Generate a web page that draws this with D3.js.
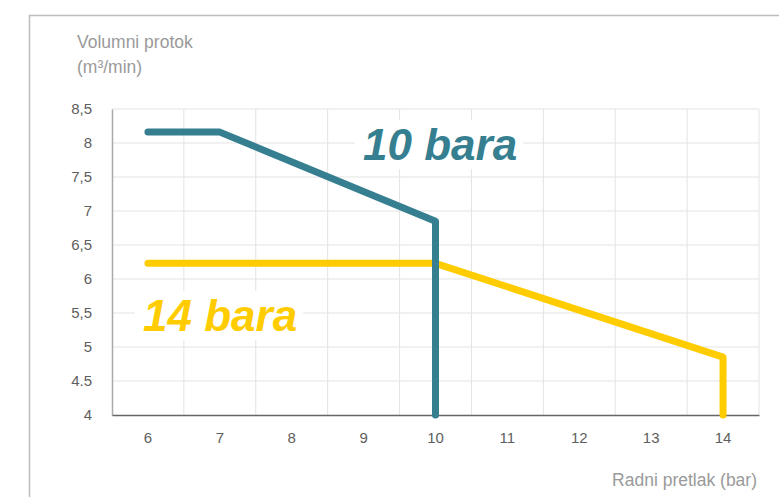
<!DOCTYPE html>
<html>
<head>
<meta charset="utf-8">
<script src="https://cdn.jsdelivr.net/npm/d3@7"></script>
<style>
  html, body { margin: 0; padding: 0; background: #fff; }
  svg { display: block; font-family: "Liberation Sans", Arial, sans-serif; }
  .tick text { font-size: 15px; fill: #5e5e5e; font-family: "Liberation Sans", Arial, sans-serif; }
</style>
</head>
<body>
<svg id="chart" width="779" height="497"></svg>
<script>
// categories on the x axis (working pressure, bar)
const pressures = [6, 7, 8, 9, 10, 11, 12, 13, 14];
const yTicks = [4, 4.5, 5, 5.5, 6, 6.5, 7, 7.5, 8, 8.5];
const yTickLabels = ['4', '4.5', '5', '5,5', '6', '6,5', '7', '7,5', '8', '8,5'];

// series: compressor 10 bar
const series10x = [6, 7, 10, 10];
const series10y = [8.16, 8.16, 6.85, 4];
// series: compressor 14 bar
const series14x = [6, 10, 14, 14];
const series14y = [6.23, 6.23, 4.85, 4];

const seriesNames = ['10 bara', '14 bara'];
const colors = ['#367f90', '#ffcc00'];

const svg = d3.select('#chart');

// outer frame, only top and left edges are visible
svg.append('rect')
  .attr('x', 29.5)
  .attr('y', 15.5)
  .attr('width', 900)
  .attr('height', 600)
  .attr('fill', 'none')
  .attr('stroke', '#bdbdbd')
  .attr('stroke-width', 1.5);

const plot = { left: 112, right: 759, top: 109, bottom: 415 };

const x = d3.scaleBand().domain(pressures).range([plot.left, plot.right]);
const xc = (v) => x(v) + x.bandwidth() / 2;
const y = d3.scaleLinear().domain([4, 8.5]).range([plot.bottom, plot.top]);

// horizontal grid
svg.append('g')
  .selectAll('line')
  .data(yTicks.slice(1))
  .enter()
  .append('line')
  .attr('x1', plot.left)
  .attr('x2', plot.right)
  .attr('y1', (d) => y(d))
  .attr('y2', (d) => y(d))
  .attr('stroke', '#e3e3e3')
  .attr('stroke-width', 1);

// vertical grid at band edges
svg.append('g')
  .selectAll('line')
  .data(pressures.slice(1).concat(['end']))
  .enter()
  .append('line')
  .attr('x1', (d) => d === 'end' ? plot.right : x(d))
  .attr('x2', (d) => d === 'end' ? plot.right : x(d))
  .attr('y1', plot.top)
  .attr('y2', plot.bottom)
  .attr('stroke', '#e3e3e3')
  .attr('stroke-width', 1);

// y axis
const yAxis = svg.append('g')
  .attr('transform', `translate(${plot.left},0)`)
  .call(d3.axisLeft(y).tickValues(yTicks).tickSize(0).tickPadding(20)
    .tickFormat((d, i) => yTickLabels[i]));
yAxis.select('.domain').attr('stroke', '#aaa').attr('stroke-width', 1.5);

// x axis
const xAxis = svg.append('g')
  .attr('transform', `translate(0,${plot.bottom})`)
  .call(d3.axisBottom(x).tickSize(0).tickPadding(17));
xAxis.select('.domain').attr('stroke', '#666').attr('stroke-width', 1.5);

// axis titles
svg.append('text')
  .attr('x', 77)
  .attr('y', 48)
  .attr('font-size', 17.5)
  .attr('fill', '#9a9a9a')
  .text('Volumni protok');
svg.append('text')
  .attr('x', 77)
  .attr('y', 73)
  .attr('font-size', 17.5)
  .attr('fill', '#9a9a9a')
  .text('(m³/min)');
svg.append('text')
  .attr('x', 757)
  .attr('y', 486)
  .attr('text-anchor', 'end')
  .attr('font-size', 17.5)
  .attr('fill', '#9a9a9a')
  .text('Radni pretlak (bar)');

// lines
const line = d3.line()
  .x((d) => xc(d[0]))
  .y((d) => y(d[1]));

const seriesData = [
  d3.zip(series10x, series10y),
  d3.zip(series14x, series14y),
];

// draw 14 first so 10 sits on top where they cross
[1, 0].forEach((i) => {
  svg.append('path')
    .datum(seriesData[i])
    .attr('d', line)
    .attr('fill', 'none')
    .attr('stroke', colors[i])
    .attr('stroke-width', 7)
    .attr('stroke-linecap', 'round')
    .attr('stroke-linejoin', 'round');
});

// series labels, white box hides the grid behind them
const labelPos = [
  { x: 363, y: 160 },
  { x: 143, y: 331 },
];
seriesNames.forEach((name, i) => {
  const g = svg.append('g');
  const t = g.append('text')
    .attr('x', labelPos[i].x)
    .attr('y', labelPos[i].y)
    .attr('font-size', 44)
    .attr('font-weight', 'bold')
    .attr('font-style', 'italic')
    .attr('fill', colors[i])
    .text(name);
  const bb = t.node().getBBox();
  g.insert('rect', 'text')
    .attr('x', bb.x - 8)
    .attr('y', bb.y)
    .attr('width', bb.width + 14)
    .attr('height', bb.height)
    .attr('fill', '#fff');
});
</script>
</body>
</html>
